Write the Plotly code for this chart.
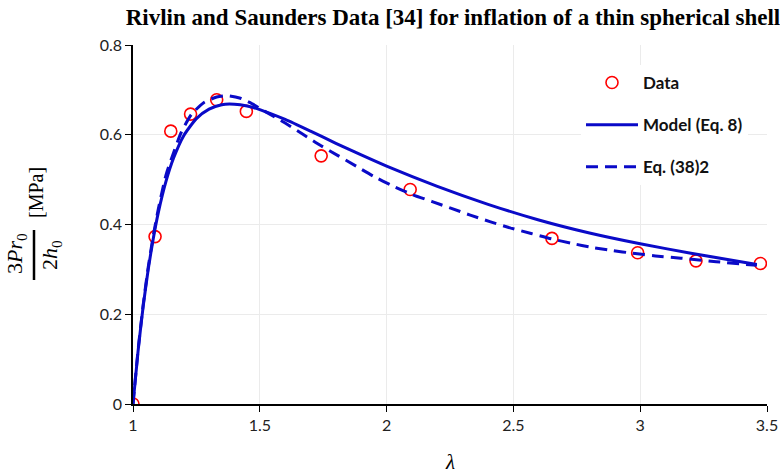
import plotly.graph_objects as go

# Data
data_x = [1.0, 1.087, 1.149, 1.227, 1.330, 1.447, 1.742, 2.093, 2.652, 2.990, 3.220, 3.474]
data_y = [0.0, 0.373, 0.608, 0.646, 0.678, 0.652, 0.553, 0.478, 0.369, 0.337, 0.319, 0.313]

model_x = [1.0, 1.02, 1.04, 1.06, 1.08, 1.10, 1.13, 1.16, 1.20, 1.25, 1.30, 1.35, 1.40, 1.45,
           1.50, 1.60, 1.70, 1.80, 1.90, 2.00, 2.20, 2.40, 2.60, 2.80, 3.00, 3.20, 3.46]
model_y = [0.0, 0.118, 0.217, 0.300, 0.369, 0.427, 0.496, 0.548, 0.598, 0.636, 0.657, 0.667, 0.668, 0.664,
           0.656, 0.634, 0.608, 0.581, 0.555, 0.530, 0.485, 0.445, 0.410, 0.381, 0.357, 0.336, 0.311]

eq38_x = [1.0, 1.02, 1.04, 1.06, 1.08, 1.10, 1.13, 1.16, 1.19, 1.23, 1.28, 1.33, 1.37, 1.42, 1.46,
          1.52, 1.60, 1.67, 1.74, 1.81, 1.88, 1.95, 2.02, 2.10, 2.18, 2.25, 2.33, 2.41, 2.49, 2.57,
          2.65, 2.73, 2.81, 2.89, 2.97, 3.06, 3.16, 3.30, 3.46]
eq38_y = [0.0, 0.120, 0.220, 0.305, 0.375, 0.435, 0.510, 0.560, 0.605, 0.645, 0.672, 0.684, 0.687, 0.682, 0.672,
          0.652, 0.626, 0.601, 0.576, 0.553, 0.530, 0.507, 0.487, 0.467, 0.451, 0.437, 0.421, 0.406, 0.392, 0.380,
          0.368, 0.358, 0.349, 0.342, 0.336, 0.330, 0.325, 0.317, 0.309]

x_ticks = [1, 1.5, 2, 2.5, 3, 3.5]
x_tick_labels = ["1", "1.5", "2", "2.5", "3", "3.5"]
y_ticks = [0, 0.2, 0.4, 0.6, 0.8]
y_tick_labels = ["0", "0.2", "0.4", "0.6", "0.8"]

BLUE = "#0A0AC8"
RED = "#FF0000"
LEGEND_FONT = dict(family="Lato, Open Sans, sans-serif", size=17, color="#111111")

fig = go.Figure()
fig.add_trace(go.Scatter(
    x=data_x, y=data_y, mode="markers", name="<b>Data</b>", legendgroup="a",
    marker=dict(symbol="circle-open", size=12, color=RED, line=dict(width=1.6, color=RED)),
))
fig.add_trace(go.Scatter(
    x=model_x, y=model_y, mode="lines", name="<b>Model (Eq. 8)</b>", legendgroup="b",
    line=dict(color=BLUE, width=3, shape="spline", smoothing=0.6),
))
fig.add_trace(go.Scatter(
    x=eq38_x, y=eq38_y, mode="lines", name="<b>Eq. (38)2</b>", legendgroup="c",
    line=dict(color=BLUE, width=3, dash="12px,7px", shape="spline", smoothing=0.6),
))

L, R, T, B = 133, 13, 45, 71
W, H = 780, 475
pw = W - L - R
ph = H - T - B

def px_x(p):
    return (p - L) / pw

def px_y(p):
    return (H - B - p) / ph

fig.update_layout(
    width=W, height=H,
    margin=dict(l=L, r=R, t=T, b=B, autoexpand=False),
    paper_bgcolor="white", plot_bgcolor="white",
    showlegend=True,
    legend=dict(
        x=px_x(581), y=px_y(65), xanchor="left", yanchor="top",
        bgcolor="white", font=LEGEND_FONT, tracegroupgap=17,
        itemwidth=52, borderwidth=0,
    ),
    title=dict(
        text="<b>Rivlin and Saunders Data [34] for inflation of a thin spherical shell</b>",
        x=453 / W, xanchor="center", xref="container",
        y=1 - 17 / H, yanchor="middle", yref="container",
        font=dict(family="Liberation Serif, Times New Roman, serif", size=23, color="black"),
    ),
    xaxis=dict(
        range=[1, 3.5], tickvals=x_ticks, ticktext=x_tick_labels,
        showgrid=True, gridcolor="#EBEBEB", gridwidth=1,
        showline=True, linecolor="black", linewidth=1.5,
        ticks="outside", ticklen=6, tickcolor="black", tickwidth=1,
        tickfont=dict(family="Lato, Open Sans, sans-serif", size=16, color="#222222"),
        zeroline=False, automargin=False,
    ),
    yaxis=dict(
        range=[0, 0.8], tickvals=y_ticks, ticktext=y_tick_labels,
        showgrid=True, gridcolor="#EBEBEB", gridwidth=1,
        showline=True, linecolor="black", linewidth=1.5,
        ticks="outside", ticklen=6, tickcolor="black", tickwidth=1,
        tickfont=dict(family="Lato, Open Sans, sans-serif", size=16, color="#222222"),
        zeroline=False, automargin=False,
    ),
)

SERIF = "Liberation Serif, Times New Roman, serif"
annots = [
    dict(text="3<i>Pr</i><sub>0</sub>", x=px_x(16), y=px_y(254), textangle=-90,
         font=dict(family=SERIF, size=22, color="black")),
    dict(text="2<i>h</i><sub>0</sub>", x=px_x(51), y=px_y(255), textangle=-90,
         font=dict(family=SERIF, size=22, color="black")),
    dict(text="[MPa]", x=px_x(36), y=px_y(193), textangle=-90,
         font=dict(family=SERIF, size=20, color="black")),
    dict(text="<i>λ</i>", x=0.5, y=px_y(462),
         font=dict(family=SERIF, size=21, color="black")),
]
for a in annots:
    fig.add_annotation(xref="paper", yref="paper", showarrow=False,
                       xanchor="center", yanchor="middle", **a)

fig.add_shape(type="line", xref="paper", yref="paper",
              x0=px_x(34), x1=px_x(34), y0=px_y(230), y1=px_y(280),
              line=dict(color="black", width=2.5))

fig.write_html("out.html", config={"displayModeBar": False},
               post_script="document.body.style.margin='0px';")
